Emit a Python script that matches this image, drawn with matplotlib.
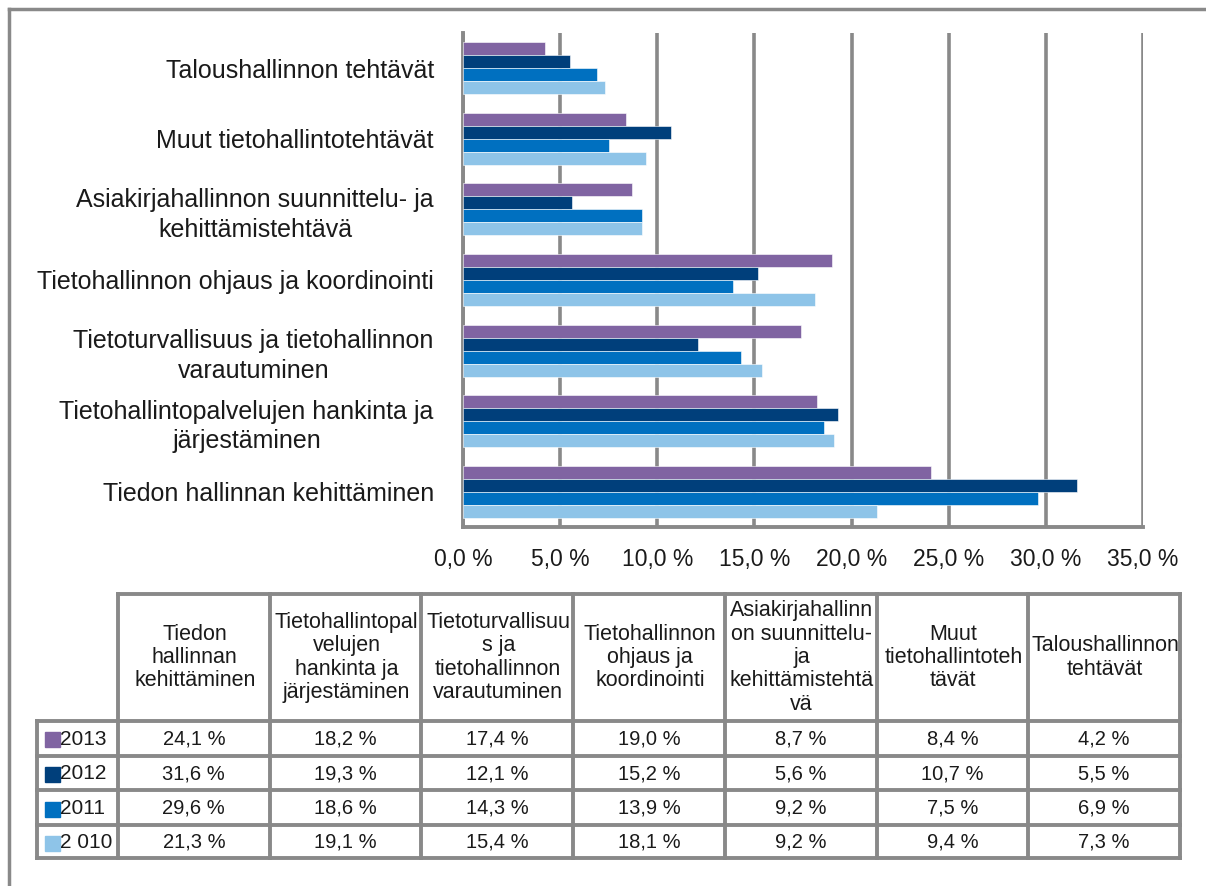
import matplotlib
matplotlib.use("Agg")
import matplotlib.pyplot as plt
from matplotlib.patches import Rectangle
from matplotlib.lines import Line2D

plt.rcParams['font.family'] = ['Liberation Sans', 'DejaVu Sans']

# categories, bottom to top as drawn on the chart
categories = ["Tiedon hallinnan kehittäminen",
              "Tietohallintopalvelujen hankinta ja\njärjestäminen",
              "Tietoturvallisuus ja tietohallinnon\nvarautuminen",
              "Tietohallinnon ohjaus ja koordinointi",
              "Asiakirjahallinnon suunnittelu- ja\nkehittämistehtävä",
              "Muut tietohallintotehtävät",
              "Taloushallinnon tehtävät"]
# same categories as wrapped in the table header
table_headers = ["Tiedon\nhallinnan\nkehittäminen",
                 "Tietohallintopal\nvelujen\nhankinta ja\njärjestäminen",
                 "Tietoturvallisuu\ns ja\ntietohallinnon\nvarautuminen",
                 "Tietohallinnon\nohjaus ja\nkoordinointi",
                 "Asiakirjahallinn\non suunnittelu-\nja\nkehittämistehtä\nvä",
                 "Muut\ntietohallintoteh\ntävät",
                 "Taloushallinnon\ntehtävät"]
years = ["2013", "2012", "2011", "2 010"]
v2013 = [24.1, 18.2, 17.4, 19.0, 8.7, 8.4, 4.2]
v2012 = [31.6, 19.3, 12.1, 15.2, 5.6, 10.7, 5.5]
v2011 = [29.6, 18.6, 14.3, 13.9, 9.2, 7.5, 6.9]
v2010 = [21.3, 19.1, 15.4, 18.1, 9.2, 9.4, 7.3]
series = [v2013, v2012, v2011, v2010]
colors = ["#8064A2", "#003F7B", "#0070C0", "#8EC4E8"]
xticks = [0, 5, 10, 15, 20, 25, 30, 35]


def pct(v):
    return ("%.1f" % v).replace(".", ",") + " %"


W, H = 1206, 886
fig = plt.figure(figsize=(W / 100, H / 100), dpi=100)
grey = "#898989"
txt = "#1a1a1a"

# bar chart
ax = fig.add_axes([463 / W, 1 - 527 / H, (1143 - 463) / W, (527 - 33) / H])
h = 0.184
offsets = [1.5 * h, 0.5 * h, -0.5 * h, -1.5 * h]
for vals, off, c, yr in zip(series, offsets, colors, years):
    ax.barh([i + off for i in range(len(vals))], vals, height=h, color=c,
            edgecolor="white", linewidth=0.4, label=yr, zorder=3)
ax.set_xlim(0, 35)
ax.set_ylim(-0.5, len(categories) - 0.5)
ax.set_xticks(xticks)
ax.set_xticklabels([pct(t) for t in xticks])
ax.set_yticks(range(len(categories)))
ax.set_yticklabels(categories, multialignment="center", linespacing=1.3)
ax.tick_params(axis="y", length=0, pad=21, labelsize=18, labelcolor=txt)
ax.tick_params(axis="x", length=0, pad=15, labelsize=16.5, labelcolor=txt)
ax.grid(axis="x", color=grey, linewidth=2.6, zorder=0)
for s in ["top", "right"]:
    ax.spines[s].set_visible(False)
for s in ["left", "bottom"]:
    ax.spines[s].set_color(grey)
    ax.spines[s].set_linewidth(2.8)

# data table drawn in pixel coordinates
tab = fig.add_axes([0, 0, 1, 1], zorder=-1)
tab.set_xlim(0, W)
tab.set_ylim(H, 0)
tab.axis("off")
col_x = [118 + 151.7 * i for i in range(len(categories) + 1)]
row_y = [721, 755.5, 790, 825, 858]
head_top = 594
lw = 2.8
for x in col_x:
    tab.add_line(Line2D([x, x], [head_top, row_y[-1]], color=grey, lw=lw))
tab.add_line(Line2D([col_x[0], col_x[-1]], [head_top, head_top], color=grey, lw=lw))
tab.add_line(Line2D([37, 37], [row_y[0], row_y[-1]], color=grey, lw=lw))
for y in row_y:
    tab.add_line(Line2D([37, col_x[-1]], [y, y], color=grey, lw=lw))
for j, lab in enumerate(table_headers):
    tab.text((col_x[j] + col_x[j + 1]) / 2 + 1, (head_top + row_y[0]) / 2, lab,
             ha="center", va="center", fontsize=15.5, linespacing=1.15, color=txt)
for r, (yr, vals, c) in enumerate(zip(years, series, colors)):
    yc = (row_y[r] + row_y[r + 1]) / 2
    tab.add_patch(Rectangle((45, yc - 6), 15, 15, color=c))
    tab.text(60, yc + 1, yr, ha="left", va="center", fontsize=15, color=txt)
    for j, v in enumerate(vals):
        tab.text((col_x[j] + col_x[j + 1]) / 2, yc + 1, pct(v),
                 ha="center", va="center", fontsize=14.5, color=txt)

# outer frame
tab.add_line(Line2D([9, 9], [9, H], color=grey, lw=2.5))
tab.add_line(Line2D([9, W], [9, 9], color=grey, lw=2.5))

fig.savefig("out.png", dpi=100)
